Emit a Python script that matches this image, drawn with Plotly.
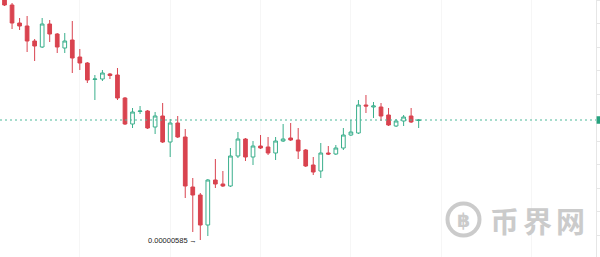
import plotly.graph_objects as go

# OHLC prices, in units of 1e-8 (0.00000585 -> 585)
opens = [682.6, 679.0, 671.8, 670.6, 664.6, 662.2, 671.4, 667.4, 661.8, 665.0,
         658.2, 655.8, 649.2, 649.4, 651.4, 651.0, 641.8, 631.4, 636.4, 636.6,
         630.2, 634.6, 624.2, 631.8, 626.2, 606.2, 603.0, 591.0, 609.0, 607.4,
         606.6, 618.6, 625.4, 618.2, 622.6, 622.2, 619.8, 624.6, 625.8, 625.0,
         621.0, 615.0, 612.6, 619.8, 619.4, 621.8, 627.0, 627.8, 639.0, 638.2,
         638.2, 635.0, 630.6, 632.6, 634.6, 632.8]
highs = [684.2, 679.8, 673.8, 674.6, 665.4, 673.8, 673.0, 667.8, 667.8, 672.6,
         661.4, 656.2, 651.0, 653.0, 651.8, 653.8, 642.2, 637.8, 638.6, 637.0,
         636.2, 639.8, 633.4, 634.6, 629.4, 609.8, 603.8, 609.4, 617.4, 612.6,
         621.8, 628.2, 625.8, 624.6, 627.0, 626.2, 626.2, 631.4, 631.8, 629.8,
         621.4, 618.2, 623.8, 622.6, 623.0, 629.8, 633.0, 641.0, 643.0, 640.2,
         639.8, 637.8, 633.4, 635.0, 637.8, 633.4]
lows = [678.6, 669.4, 669.0, 660.2, 656.6, 661.8, 664.2, 659.8, 659.8, 651.8,
        653.0, 647.8, 641.0, 648.6, 649.4, 641.0, 631.0, 629.8, 635.4, 629.4,
        627.4, 623.8, 618.2, 625.8, 601.8, 588.2, 585.0, 586.6, 605.8, 606.2,
        606.2, 617.8, 616.6, 615.0, 621.4, 619.0, 617.0, 624.2, 624.6, 617.4,
        614.2, 611.0, 609.8, 619.0, 619.0, 621.0, 626.6, 627.4, 635.8, 633.8,
        632.6, 630.6, 630.2, 630.6, 631.8, 629.8]
closes = [679.0, 671.8, 670.6, 664.6, 662.6, 671.4, 667.4, 662.2, 664.6, 657.8,
          655.8, 649.0, 649.4, 651.8, 650.8, 641.8, 631.4, 636.2, 636.6, 629.8,
          634.6, 624.2, 631.8, 626.2, 606.6, 603.0, 591.0, 609.0, 607.4, 606.6,
          618.6, 625.4, 618.2, 622.6, 621.8, 619.8, 624.6, 625.4, 625.0, 620.6,
          614.6, 612.2, 619.8, 619.4, 621.8, 627.0, 628.2, 639.0, 638.6, 638.6,
          634.6, 631.0, 632.6, 634.2, 632.2, 633.0]
low_label = "0.00000585\u2009→"
watermark_chars = ["币", "界", "网"]

SCALE = 1e-8
RED = "#d9434f"
GREEN = "#3aaf8c"
WM = "#cbcbcb"

x = list(range(len(opens)))
o = [v * SCALE for v in opens]
h = [v * SCALE for v in highs]
l = [v * SCALE for v in lows]
c = [v * SCALE for v in closes]

fig = go.Figure(go.Candlestick(
    x=x, open=o, high=h, low=l, close=c,
    increasing=dict(line=dict(color=GREEN, width=1), fillcolor="white"),
    decreasing=dict(line=dict(color=RED, width=1), fillcolor=RED),
    whiskerwidth=0, hoverinfo="skip", showlegend=False,
))

low_idx = min(range(len(l)), key=lambda i: l[i])
last = c[-1]

shapes = [
    dict(type="line", xref="paper", x0=0, x1=1, yref="y", y0=last, y1=last,
         line=dict(color="#4fb99a", width=1, dash="2px,3px"), layer="above"),
    dict(type="rect", xref="paper", x0=1.001, x1=1.01, yref="y",
         y0=last - 1.5 * SCALE, y1=last + 1.5 * SCALE,
         fillcolor="#26a27e", line=dict(width=0)),
    # watermark ring
    dict(type="circle", xref="paper", yref="paper",
         x0=447.5 / 596, x1=479.5 / 596, y0=1 - 235.5 / 257, y1=1 - 203.5 / 257,
         line=dict(color=WM, width=4), layer="below"),
]

annotations = [
    dict(x=low_idx, y=l[low_idx], xref="x", yref="y", text=low_label,
         showarrow=False, xanchor="right", yanchor="middle", xshift=-1,
         font=dict(family="Liberation Sans", size=7.5, color="#222222")),
    dict(x=463.5 / 596, y=1 - 219.5 / 257, xref="paper", yref="paper", text="<b>฿</b>",
         showarrow=False, xanchor="center", yanchor="middle",
         font=dict(family="DejaVu Sans", size=19, color=WM)),
]
for i, ch in enumerate(watermark_chars):
    annotations.append(dict(
        x=(504 + 33 * i) / 596, y=1 - 219.5 / 257, xref="paper", yref="paper",
        text="<b>" + ch + "</b>", showarrow=False, xanchor="center", yanchor="middle",
        font=dict(family="Noto Sans CJK SC", size=29, color=WM)))

fig.update_layout(
    width=600, height=257,
    margin=dict(l=0, r=4, t=0, b=0),
    paper_bgcolor="white", plot_bgcolor="white",
    shapes=shapes, annotations=annotations,
    xaxis=dict(range=[-0.6, 78.55], showgrid=True, gridcolor="#f6f6f6", gridwidth=1,
               tick0=10, dtick=12, showticklabels=False, zeroline=False,
               showline=False, ticks="", rangeslider=dict(visible=False), fixedrange=True),
    yaxis=dict(range=[578.2 * SCALE, 681.0 * SCALE], side="right", showgrid=False,
               zeroline=False, showticklabels=False, showline=True, linecolor="#e6e6e6",
               ticks="outside", ticklen=4, tickcolor="#e6e6e6",
               tick0=587.0 * SCALE, dtick=9.4 * SCALE, fixedrange=True),
)

fig.write_html("out.html")
